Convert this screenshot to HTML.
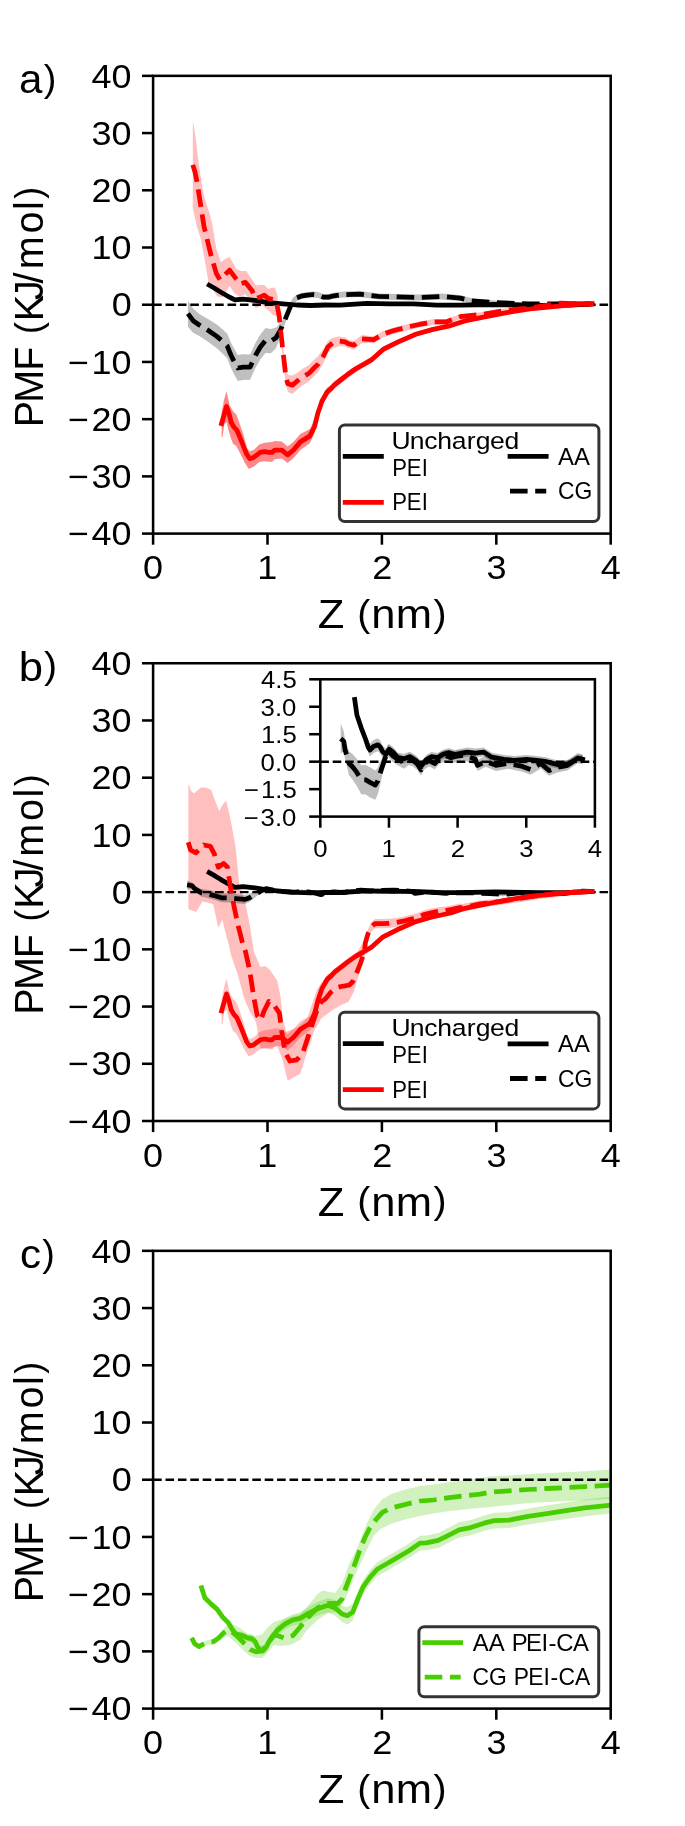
<!DOCTYPE html><html><head><meta charset="utf-8"><title>PMF profiles</title><style>html,body{margin:0;padding:0;background:#fff;}body{width:685px;height:1826px;overflow:hidden;}svg text{font-family:"Liberation Sans", sans-serif;}</style></head><body>
<svg width="685" height="1826" viewBox="0 0 685 1826" style="display:block;font-family:&quot;Liberation Sans&quot;,sans-serif;will-change:transform"><defs><clipPath id="ax0"><rect x="153.1" y="75.85" width="457.60" height="457.75"/></clipPath><clipPath id="ax1"><rect x="153.1" y="663.25" width="457.60" height="457.75"/></clipPath><clipPath id="ax2"><rect x="153.1" y="1250.85" width="457.60" height="457.75"/></clipPath><clipPath id="ins"><rect x="320.3" y="679.3" width="274.60" height="137.30"/></clipPath></defs><rect width="685" height="1826" fill="#fff"/><polygon points="187.9,300.7 193.1,308.6 199.3,314.0 208.0,318.9 216.8,324.5 222.0,328.7 227.3,333.7 230.8,342.2 233.4,347.3 237.8,355.0 243.1,354.3 250.1,354.5 255.0,343.7 260.3,334.5 265.5,327.9 270.8,328.9 276.0,327.4 280.6,323.5 284.6,316.5 287.8,309.0 290.5,302.7 293.1,297.5 297.0,294.5 302.3,292.8 307.6,292.1 312.8,291.5 318.1,292.1 323.3,294.1 328.6,294.1 333.8,292.8 343.4,291.6 359.7,291.1 378.4,293.4 397.1,293.9 418.1,294.6 441.5,293.4 460.2,295.1 471.7,298.2 495.0,300.5 530.0,302.9 560.0,303.2 592.0,303.5 592.0,304.5 560.0,304.8 530.0,304.9 495.0,304.5 471.7,303.6 460.2,301.1 441.5,299.4 418.1,300.6 397.1,299.9 378.4,299.4 359.7,297.1 343.4,297.6 333.8,298.8 328.6,300.1 323.3,300.1 318.1,298.1 312.8,297.5 307.6,298.1 302.3,298.8 297.0,300.9 293.1,304.5 290.5,309.9 287.8,316.6 284.6,324.9 280.6,336.3 276.0,348.2 270.8,353.3 265.5,352.9 260.3,359.5 255.0,368.7 250.1,379.7 243.1,379.9 237.8,381.0 233.4,372.9 230.8,367.4 227.3,358.5 222.0,352.9 216.8,348.3 208.0,341.7 199.3,336.0 193.1,332.8 187.9,326.7" fill="#000" fill-opacity="0.25" clip-path="url(#ax0)"/>
<polygon points="192.8,121.0 195.1,133.4 198.6,162.6 202.7,189.4 205.0,200.0 208.5,210.0 212.0,222.8 216.4,249.0 220.8,262.2 225.0,259.0 229.6,257.0 236.6,269.2 241.0,271.0 246.2,271.0 252.3,279.7 256.0,285.5 260.0,285.0 264.6,285.0 268.0,289.0 271.0,288.0 275.1,287.6 277.5,296.0 279.3,310.0 280.6,323.0 281.9,335.0 283.2,347.0 284.6,359.0 285.9,370.0 288.0,375.0 292.4,375.5 297.0,373.0 302.3,369.0 308.9,365.0 312.8,361.0 318.1,356.0 323.3,349.0 327.9,341.0 332.5,338.0 339.1,336.5 345.0,337.5 348.0,339.5 354.0,341.0 362.0,335.0 374.0,336.5 383.0,331.0 395.0,327.3 409.0,323.8 420.0,321.2 434.5,319.0 446.0,319.0 460.0,314.2 483.0,312.0 507.0,308.2 530.0,306.2 560.0,302.2 592.0,303.5 592.0,304.5 560.0,304.2 530.0,309.6 507.0,312.2 483.0,316.4 460.0,319.2 446.0,324.8 434.5,324.8 420.0,327.2 409.0,330.0 395.0,333.5 383.0,337.5 374.0,343.0 362.0,343.0 354.0,349.5 348.0,348.0 345.0,346.5 339.1,346.0 332.5,348.5 327.9,353.0 323.3,363.5 318.1,372.0 312.8,377.5 308.9,381.5 302.3,385.5 297.0,390.0 292.4,394.0 288.0,392.0 285.9,385.0 284.6,374.0 283.2,362.0 281.9,350.0 280.6,339.0 279.3,327.0 277.3,318.0 276.0,316.0 273.0,315.0 268.0,310.0 262.0,305.0 255.8,308.6 250.0,300.0 245.0,294.0 240.0,297.0 234.0,293.0 229.6,285.8 226.0,292.0 222.0,297.5 217.3,296.4 213.0,290.0 208.5,282.3 205.9,266.6 200.7,238.5 196.9,226.8 192.8,208.0" fill="#ff0000" fill-opacity="0.25" clip-path="url(#ax0)"/>
<polygon points="221.6,412.0 224.0,400.0 226.5,391.1 229.5,405.1 233.0,411.3 236.5,414.8 240.0,424.4 243.5,434.9 247.0,448.1 249.7,451.6 254.0,449.8 259.3,444.6 264.6,442.8 272.0,441.9 274.7,440.9 281.8,441.6 287.6,446.5 293.4,441.9 300.4,433.9 309.8,428.9 314.5,420.3 318.0,407.2 320.0,402.0 322.0,396.2 324.7,392.0 327.3,387.4 331.7,384.2 334.5,381.2 340.7,376.6 347.7,371.2 355.5,365.8 362.6,361.9 371.4,357.0 383.1,346.6 397.1,339.9 415.8,331.9 432.1,327.4 450.8,323.6 464.8,319.0 483.4,315.5 506.7,311.2 530.0,307.8 553.4,305.8 576.8,303.7 592.0,303.5 592.0,304.5 576.8,305.1 553.4,307.6 530.0,310.2 506.7,314.0 483.4,318.9 464.8,322.8 450.8,327.6 432.1,331.8 415.8,336.5 397.1,344.9 383.1,352.2 371.4,362.8 362.6,368.1 355.5,372.2 347.7,377.8 340.7,383.4 334.5,388.4 331.7,391.8 327.3,396.0 324.7,401.0 322.0,405.8 320.0,412.0 318.0,418.2 314.5,433.1 309.8,443.3 300.4,449.9 293.4,458.3 287.6,463.1 281.8,458.6 274.7,459.3 272.0,462.1 264.6,461.2 259.3,462.1 254.0,466.5 248.8,469.1 245.3,463.8 240.9,455.1 236.5,446.3 233.0,443.7 230.4,436.7 228.5,430.0 226.5,422.0 224.3,424.4 222.5,437.0 221.6,436.7" fill="#ff0000" fill-opacity="0.47" clip-path="url(#ax0)"/>
<line x1="153.10" y1="304.73" x2="610.70" y2="304.73" stroke="#000" stroke-width="2.4" stroke-dasharray="8.6,3.8"/>
<path d="M209.20,285.20 L215.00,288.50 L220.90,292.20 L228.00,296.30 L234.90,299.90 L243.10,299.20 L254.80,300.40 L268.80,302.70 L282.80,303.90 L296.80,305.00 L310.80,305.50 L324.80,305.00 L340.00,305.10 L366.70,303.40 L390.00,303.90 L413.40,303.90 L436.80,305.10 L460.20,305.20 L495.00,304.50 L541.80,305.30 L570.00,305.00 L592.00,304.00" fill="none" stroke="#000" stroke-width="4.76" stroke-linejoin="round" stroke-linecap="square" clip-path="url(#ax0)"/>
<path d="M187.90,313.70 L193.10,320.70 L199.30,325.00 L208.00,330.30 L216.80,336.40 L222.00,340.80 L227.30,346.10 L230.80,354.80 L233.40,360.10 L237.80,368.00 L243.10,367.10 L250.10,367.10 L255.00,356.20 L260.30,347.00 L265.50,340.40 L270.80,341.10 L276.00,337.80 L280.60,329.90 L284.60,320.70 L287.80,312.80 L290.50,306.30 L293.10,301.00 L297.00,297.70 L302.30,295.80 L307.60,295.10 L312.80,294.50 L318.10,295.10 L323.30,297.10 L328.60,297.10 L333.80,295.80 L343.40,294.60 L359.70,294.10 L378.40,296.40 L397.10,296.90 L418.10,297.60 L441.50,296.40 L460.20,298.10 L471.70,300.90 L495.00,302.50 L530.00,303.90 L560.00,304.00 L592.00,304.00" fill="none" stroke="#000" stroke-width="4.76" stroke-linejoin="round" stroke-linecap="butt" stroke-dasharray="17.6,7.6" clip-path="url(#ax0)"/>
<path d="M221.60,423.50 L226.50,406.50 L229.10,413.90 L231.30,422.70 L233.90,427.00 L237.00,430.50 L240.00,437.60 L243.50,446.30 L246.60,454.20 L249.70,458.60 L253.20,457.70 L256.70,455.10 L260.20,452.40 L264.60,451.60 L268.90,452.40 L272.00,452.40 L274.70,450.10 L281.80,450.10 L287.60,454.80 L293.40,450.10 L300.40,441.90 L309.80,436.10 L314.50,426.70 L318.00,412.70 L320.00,407.00 L322.00,401.00 L324.70,396.50 L327.30,391.70 L331.70,388.00 L334.50,384.80 L340.70,380.00 L347.70,374.50 L355.50,369.00 L362.60,365.00 L371.40,359.90 L383.10,349.40 L397.10,342.40 L415.80,334.20 L432.10,329.60 L450.80,325.60 L464.80,320.90 L483.40,317.20 L506.70,312.60 L530.00,309.00 L553.40,306.70 L576.80,304.40 L592.00,304.00" fill="none" stroke="#ff0000" stroke-width="4.76" stroke-linejoin="round" stroke-linecap="square" clip-path="url(#ax0)"/>
<path d="M192.80,164.90 L195.00,172.00 L196.90,181.20 L200.40,203.40 L203.90,226.00 L206.80,238.00 L211.20,256.10 L216.40,273.60 L219.90,279.70 L225.20,274.50 L229.60,270.10 L234.80,277.10 L240.10,284.10 L245.30,282.30 L252.30,291.10 L255.00,298.50 L260.30,297.10 L264.20,295.10 L268.10,298.40 L274.70,299.70 L277.30,306.30 L279.30,316.80 L280.60,329.90 L281.90,341.80 L283.20,353.60 L284.60,365.40 L285.90,377.20 L287.80,383.80 L292.40,385.10 L297.00,381.20 L302.30,377.20 L308.90,373.30 L312.80,369.30 L318.10,364.10 L323.30,356.20 L327.90,347.00 L332.50,343.10 L339.10,341.10 L345.00,341.80 L348.00,343.60 L353.90,345.20 L362.00,338.90 L373.70,339.60 L383.10,334.20 L394.70,330.30 L408.80,326.80 L420.40,324.20 L434.50,321.90 L446.10,321.90 L460.20,316.70 L483.40,314.20 L506.70,310.20 L530.00,307.90 L560.40,303.20 L592.00,304.00" fill="none" stroke="#ff0000" stroke-width="4.76" stroke-linejoin="round" stroke-linecap="butt" stroke-dasharray="17.6,7.6" clip-path="url(#ax0)"/>
<rect x="339.4" y="424.90" width="259.5" height="96.6" rx="5.5" ry="5.5" fill="#fff" fill-opacity="0.8" stroke="#000" stroke-opacity="0.8" stroke-width="3.0"/>
<path d="M345.20,456.30 L381.40,456.30" fill="none" stroke="#000" stroke-width="4.76" stroke-linejoin="round" stroke-linecap="square"/>
<path d="M345.20,502.30 L381.40,502.30" fill="none" stroke="#ff0000" stroke-width="4.76" stroke-linejoin="round" stroke-linecap="square"/>
<path d="M510.00,456.40 L546.20,456.40" fill="none" stroke="#000" stroke-width="4.76" stroke-linejoin="round" stroke-linecap="square"/>
<path d="M510.00,491.10 L546.20,491.10" fill="none" stroke="#000" stroke-width="4.76" stroke-linejoin="round" stroke-linecap="butt" stroke-dasharray="17.6,7.6"/>
<text transform="translate(392.59,449.00) scale(1.0755,1)" font-size="24.69" xml:space="preserve"><tspan x="-0.99 15.86 29.37 41.50 55.00 68.85 77.42 90.58 104.12" y="0">Uncharged</tspan></text>
<text transform="translate(392.61,475.50) scale(0.8940,1)" font-size="24.69" xml:space="preserve"><tspan x="-0.38 15.72 32.60" y="0">PEI</tspan></text>
<text transform="translate(392.61,510.30) scale(0.8940,1)" font-size="24.69" xml:space="preserve"><tspan x="-0.38 15.72 32.60" y="0">PEI</tspan></text>
<text transform="translate(558.01,464.60) scale(0.9679,1)" font-size="24.69" xml:space="preserve"><tspan x="0.00 16.47" y="0">AA</tspan></text>
<text transform="translate(558.02,499.40) scale(0.9264,1)" font-size="24.69" xml:space="preserve"><tspan x="-0.13 17.71" y="0">CG</tspan></text>
<polygon points="221.6,999.4 224.0,987.4 226.5,978.5 229.5,992.5 233.0,998.7 236.5,1002.2 240.0,1011.8 243.5,1022.3 247.0,1035.5 249.7,1039.0 254.0,1037.2 259.3,1032.0 264.6,1030.2 272.0,1029.3 274.7,1028.3 281.8,1029.0 287.6,1033.9 293.4,1029.3 300.4,1021.3 309.8,1016.3 314.5,1007.7 318.0,994.6 320.0,989.4 322.0,983.6 324.7,979.4 327.3,974.8 331.7,971.6 334.5,968.6 340.7,964.0 347.7,958.6 355.5,953.2 362.6,949.3 371.4,944.4 383.1,934.0 397.1,927.3 415.8,919.3 432.1,914.8 450.8,911.0 464.8,906.4 483.4,902.9 506.7,898.6 530.0,895.2 553.4,893.2 576.8,891.1 592.0,890.9 592.0,891.9 576.8,892.5 553.4,895.0 530.0,897.6 506.7,901.4 483.4,906.3 464.8,910.2 450.8,915.0 432.1,919.2 415.8,923.9 397.1,932.3 383.1,939.6 371.4,950.2 362.6,955.5 355.5,959.6 347.7,965.2 340.7,970.8 334.5,975.8 331.7,979.2 327.3,983.4 324.7,988.4 322.0,993.2 320.0,999.4 318.0,1005.6 314.5,1020.5 309.8,1030.7 300.4,1037.3 293.4,1045.7 287.6,1050.5 281.8,1046.0 274.7,1046.7 272.0,1049.5 264.6,1048.6 259.3,1049.5 254.0,1053.9 248.8,1056.5 245.3,1051.2 240.9,1042.5 236.5,1033.7 233.0,1031.1 230.4,1024.1 228.5,1017.4 226.5,1009.4 224.3,1011.8 222.5,1024.4 221.6,1024.1" fill="#ff0000" fill-opacity="0.25" clip-path="url(#ax1)"/>
<polygon points="188.4,782.9 191.0,790.8 193.7,793.4 198.0,789.9 201.5,787.3 206.8,787.7 211.2,789.9 214.7,799.6 219.1,811.0 222.6,804.8 226.1,800.4 229.6,815.3 233.1,832.9 236.0,850.0 239.3,885.7 244.6,898.8 249.8,925.1 253.8,951.4 260.4,967.1 265.0,966.0 270.0,969.9 277.1,980.4 280.6,996.7 283.0,1020.0 286.4,1031.8 298.1,1027.1 307.5,1017.7 316.8,990.0 321.0,983.0 326.0,977.0 335.0,969.0 345.0,962.5 352.0,958.0 357.0,952.0 362.0,944.0 364.3,940.0 365.4,938.0 368.0,929.3 371.5,922.3 375.0,919.0 382.0,919.0 389.0,918.7 396.0,918.0 403.0,916.8 410.0,915.0 417.0,913.3 424.0,910.3 431.0,908.6 438.0,907.2 445.0,906.5 452.0,905.2 460.0,903.5 462.0,904.0 480.0,900.5 500.0,898.5 520.0,896.0 540.0,893.5 560.0,891.5 591.5,891.0 591.5,893.0 560.0,896.5 540.0,899.0 520.0,902.0 500.0,905.0 480.0,907.5 462.0,912.0 460.0,911.5 452.0,913.4 445.0,914.9 438.0,915.6 431.0,917.0 424.0,918.7 417.0,922.1 410.0,923.8 403.0,925.6 396.0,926.9 389.0,927.9 382.0,928.2 375.0,928.2 371.5,931.3 368.0,938.5 365.4,948.0 364.3,958.0 361.7,966.6 359.0,974.5 353.8,992.0 348.5,1001.7 340.7,1005.2 331.9,1010.4 321.4,1018.3 314.5,1030.0 307.5,1050.4 300.4,1073.8 287.6,1080.8 282.0,1058.0 277.1,1045.8 270.0,1048.1 260.7,1048.1 256.0,1022.0 250.0,1012.0 244.4,999.0 237.4,973.4 231.0,955.0 228.8,945.0 226.2,935.6 222.3,919.8 218.3,927.7 213.1,904.1 202.5,901.5 196.0,912.0 188.4,909.3" fill="#ff0000" fill-opacity="0.25" clip-path="url(#ax1)"/>
<polygon points="187.1,880.2 192.3,882.6 194.4,885.7 200.9,888.8 206.8,889.7 213.4,891.1 221.4,893.3 228.8,893.2 235.9,893.9 244.8,894.9 249.1,893.9 252.1,892.4 254.9,891.4 257.9,890.4 260.8,888.9 266.1,886.6 273.4,888.3 283.2,889.7 292.9,890.6 300.2,889.5 307.6,889.9 314.7,891.0 320.9,892.8 326.9,890.9 334.2,890.0 344.1,890.9 351.2,889.3 361.1,888.4 370.7,889.1 380.6,888.6 394.2,888.3 411.6,889.6 415.1,891.6 428.7,890.3 445.7,891.6 466.1,891.0 489.9,891.9 503.5,892.9 520.5,891.0 534.2,893.3 547.9,892.3 564.9,891.7 581.9,889.5 590.4,889.8 590.4,892.9 581.9,892.6 564.9,894.9 547.9,895.5 534.2,896.5 520.5,894.3 503.5,896.2 489.9,895.3 466.1,894.3 445.7,895.0 428.7,893.7 415.1,895.0 411.6,893.1 394.2,891.8 380.6,892.2 370.7,892.7 361.1,892.0 351.2,892.9 344.1,894.5 334.2,893.6 326.9,894.5 320.9,896.5 314.7,894.7 307.6,893.6 300.2,893.2 292.9,894.3 283.2,893.4 273.4,892.1 266.1,890.6 260.8,893.6 257.9,895.3 254.9,897.6 252.1,899.9 249.1,902.2 244.8,904.0 235.9,903.3 228.8,902.4 221.4,902.3 213.4,899.5 206.8,897.7 200.9,896.4 194.4,891.3 192.3,888.9 187.1,889.6" fill="#000" fill-opacity="0.25" clip-path="url(#ax1)"/>
<line x1="153.10" y1="892.12" x2="610.70" y2="892.12" stroke="#000" stroke-width="2.4" stroke-dasharray="8.6,3.8"/>
<path d="M209.20,872.60 L215.00,875.90 L220.90,879.60 L228.00,883.70 L234.90,887.30 L243.10,886.60 L254.80,887.80 L268.80,890.10 L282.80,891.30 L296.80,892.40 L310.80,892.90 L324.80,892.40 L340.00,892.50 L366.70,890.80 L390.00,891.30 L413.40,891.30 L436.80,892.50 L460.20,892.60 L495.00,891.90 L541.80,892.70 L570.00,892.40 L592.00,891.40" fill="none" stroke="#000" stroke-width="4.76" stroke-linejoin="round" stroke-linecap="square" clip-path="url(#ax1)"/>
<path d="M187.10,884.91 L192.26,885.76 L194.43,888.47 L200.93,892.60 L206.76,893.69 L213.42,895.32 L221.42,897.79 L228.76,897.79 L235.92,898.60 L244.75,899.45 L249.09,898.07 L252.09,896.16 L254.92,894.51 L257.92,892.85 L260.75,891.22 L266.08,888.60 L273.42,890.19 L283.25,891.54 L292.91,892.48 L300.25,891.32 L307.58,891.79 L314.74,892.85 L320.91,894.66 L326.91,892.69 L334.24,891.79 L344.07,892.69 L351.24,891.10 L361.07,890.19 L370.73,890.88 L380.57,890.41 L394.23,890.04 L411.56,891.38 L415.06,893.29 L428.73,892.01 L445.72,893.29 L466.05,892.66 L489.88,893.60 L503.55,894.57 L520.55,892.66 L534.21,894.88 L547.88,893.91 L564.87,893.29 L581.87,891.04 L590.37,891.38" fill="none" stroke="#000" stroke-width="4.76" stroke-linejoin="round" stroke-linecap="butt" stroke-dasharray="17.6,7.6" clip-path="url(#ax1)"/>
<path d="M221.60,1010.90 L226.50,993.90 L229.10,1001.30 L231.30,1010.10 L233.90,1014.40 L237.00,1017.90 L240.00,1025.00 L243.50,1033.70 L246.60,1041.60 L249.70,1046.00 L253.20,1045.10 L256.70,1042.50 L260.20,1039.80 L264.60,1039.00 L268.90,1039.80 L272.00,1039.80 L274.70,1037.50 L281.80,1037.50 L287.60,1042.20 L293.40,1037.50 L300.40,1029.30 L309.80,1023.50 L314.50,1014.10 L318.00,1000.10 L320.00,994.40 L322.00,988.40 L324.70,983.90 L327.30,979.10 L331.70,975.40 L334.50,972.20 L340.70,967.40 L347.70,961.90 L355.50,956.40 L362.60,952.40 L371.40,947.30 L383.10,936.80 L397.10,929.80 L415.80,921.60 L432.10,917.00 L450.80,913.00 L464.80,908.30 L483.40,904.60 L506.70,900.00 L530.00,896.40 L553.40,894.10 L576.80,891.80 L592.00,891.40" fill="none" stroke="#ff0000" stroke-width="4.76" stroke-linejoin="round" stroke-linecap="square" clip-path="url(#ax1)"/>
<path d="M188.20,842.30 L190.70,850.20 L196.00,852.80 L203.90,845.00 L210.40,846.30 L214.40,854.20 L218.30,867.30 L223.60,863.40 L227.50,867.30 L230.10,885.70 L234.10,906.70 L238.00,925.10 L242.00,940.90 L245.60,952.00 L249.80,971.00 L253.70,996.70 L257.20,1015.40 L260.70,1020.10 L264.20,1010.70 L268.90,1001.40 L274.70,1006.10 L279.40,1013.10 L281.80,1031.80 L285.30,1052.80 L289.90,1061.00 L296.90,1059.80 L302.80,1052.80 L307.50,1038.80 L312.10,1024.70 L316.80,1010.70 L321.50,1001.40 L325.30,999.00 L331.00,992.00 L336.30,987.70 L341.00,986.50 L345.00,985.90 L349.40,985.00 L352.90,981.50 L355.50,976.30 L357.70,970.10 L359.90,964.90 L362.60,957.00 L364.30,952.60 L365.40,942.60 L368.00,933.80 L371.50,926.80 L375.00,923.60 L382.00,923.60 L389.10,923.30 L396.10,922.40 L403.10,921.20 L410.10,919.40 L417.10,917.70 L424.10,914.50 L431.10,912.80 L438.10,911.40 L445.10,910.70 L452.10,909.30 L460.00,907.50 L461.50,907.90 L480.20,903.90 L500.00,901.60 L513.80,899.30 L535.70,896.00 L557.60,893.10 L591.50,891.80" fill="none" stroke="#ff0000" stroke-width="4.76" stroke-linejoin="round" stroke-linecap="butt" stroke-dasharray="17.6,7.6" clip-path="url(#ax1)"/>
<rect x="339.4" y="1012.30" width="259.5" height="96.6" rx="5.5" ry="5.5" fill="#fff" fill-opacity="0.8" stroke="#000" stroke-opacity="0.8" stroke-width="3.0"/>
<path d="M345.20,1043.70 L381.40,1043.70" fill="none" stroke="#000" stroke-width="4.76" stroke-linejoin="round" stroke-linecap="square"/>
<path d="M345.20,1089.70 L381.40,1089.70" fill="none" stroke="#ff0000" stroke-width="4.76" stroke-linejoin="round" stroke-linecap="square"/>
<path d="M510.00,1043.80 L546.20,1043.80" fill="none" stroke="#000" stroke-width="4.76" stroke-linejoin="round" stroke-linecap="square"/>
<path d="M510.00,1078.50 L546.20,1078.50" fill="none" stroke="#000" stroke-width="4.76" stroke-linejoin="round" stroke-linecap="butt" stroke-dasharray="17.6,7.6"/>
<text transform="translate(392.59,1036.40) scale(1.0755,1)" font-size="24.69" xml:space="preserve"><tspan x="-0.99 15.86 29.37 41.50 55.00 68.85 77.42 90.58 104.12" y="0">Uncharged</tspan></text>
<text transform="translate(392.61,1062.90) scale(0.8940,1)" font-size="24.69" xml:space="preserve"><tspan x="-0.38 15.72 32.60" y="0">PEI</tspan></text>
<text transform="translate(392.61,1097.70) scale(0.8940,1)" font-size="24.69" xml:space="preserve"><tspan x="-0.38 15.72 32.60" y="0">PEI</tspan></text>
<text transform="translate(558.01,1052.00) scale(0.9679,1)" font-size="24.69" xml:space="preserve"><tspan x="0.00 16.47" y="0">AA</tspan></text>
<text transform="translate(558.02,1086.80) scale(0.9264,1)" font-size="24.69" xml:space="preserve"><tspan x="-0.13 17.71" y="0">CG</tspan></text>
<rect x="320.3" y="679.3" width="274.60" height="137.30" fill="#fff"/>
<polygon points="354.7,697.4 356.9,712.6 361.3,724.8 365.7,735.1 368.3,741.8 370.0,743.5 373.5,740.0 377.9,738.3 380.5,741.0 382.7,745.7 385.8,748.8 389.3,744.1 392.8,746.8 397.7,752.7 403.8,753.8 409.9,751.8 416.1,755.8 421.2,761.1 426.3,754.9 431.4,751.9 437.5,752.9 442.6,749.9 448.8,747.9 454.9,749.9 460.0,749.0 467.3,747.5 475.4,748.5 483.6,747.6 491.8,752.7 504.0,754.9 514.3,755.9 526.5,755.0 536.7,756.1 544.9,757.1 553.1,759.2 561.3,761.3 569.4,759.3 577.6,754.2 582.7,755.3 582.7,763.3 577.6,762.2 569.4,767.5 561.3,769.5 553.1,767.6 544.9,765.5 536.7,764.5 526.5,763.6 514.3,764.7 504.0,763.7 491.8,761.7 483.6,756.6 475.4,757.7 467.3,756.7 460.0,758.2 454.9,759.3 448.8,757.3 442.6,759.3 437.5,762.5 431.4,761.5 426.3,764.5 421.2,770.7 416.1,765.6 409.9,761.6 403.8,763.6 397.7,762.7 392.8,756.8 389.3,754.3 385.8,760.0 382.7,757.9 380.5,753.8 377.9,751.3 373.5,753.0 370.0,756.5 368.3,753.0 365.7,743.9 361.3,731.4 356.9,717.4 354.7,701.4" fill="#000" fill-opacity="0.25" clip-path="url(#ins)"/>
<polygon points="340.7,723.6 343.8,731.3 345.1,741.0 349.0,751.2 352.5,754.0 356.5,758.4 361.3,765.3 365.7,765.0 370.0,767.2 375.3,770.4 377.9,767.4 379.7,762.6 381.4,759.4 383.2,756.1 384.9,751.3 388.1,743.9 392.5,749.5 398.4,753.8 404.2,756.9 408.6,753.2 413.0,754.7 417.3,758.1 421.0,764.0 424.6,757.7 429.0,754.8 434.9,757.7 439.2,752.7 445.1,749.8 450.9,752.0 456.8,750.5 465.0,749.4 475.4,753.7 477.5,759.9 485.7,755.8 495.9,759.9 508.1,758.0 522.4,761.1 530.6,764.2 540.8,758.2 549.0,765.3 557.2,762.3 567.4,760.3 577.6,753.2 582.7,754.3 582.7,764.3 577.6,763.2 567.4,770.5 557.2,772.5 549.0,775.7 540.8,768.6 530.6,774.8 522.4,771.7 508.1,768.8 495.9,770.9 485.7,766.8 477.5,770.9 475.4,764.9 465.0,760.6 456.8,761.9 450.9,763.4 445.1,761.2 439.2,764.1 434.9,769.3 429.0,766.4 424.6,769.3 421.0,775.6 417.3,769.9 413.0,766.5 408.6,765.0 404.2,768.7 398.4,765.8 392.5,761.5 388.1,756.9 384.9,766.3 383.2,771.9 381.4,779.2 379.7,786.6 377.9,794.0 375.3,799.8 370.0,797.6 365.7,794.6 361.3,794.3 356.5,785.4 352.5,779.4 349.0,775.2 345.1,759.0 343.8,751.3 340.7,753.6" fill="#000" fill-opacity="0.25" clip-path="url(#ins)"/>
<line x1="320.30" y1="761.68" x2="594.90" y2="761.68" stroke="#000" stroke-width="2.4" stroke-dasharray="8.6,3.8"/>
<path d="M354.70,699.40 L356.90,715.00 L361.30,728.10 L365.70,739.50 L368.30,747.40 L370.00,750.00 L373.50,746.50 L377.90,744.80 L380.50,747.40 L382.70,751.80 L385.80,754.40 L389.30,749.20 L392.80,751.80 L397.70,757.70 L403.80,758.70 L409.90,756.70 L416.10,760.70 L421.20,765.90 L426.30,759.70 L431.40,756.70 L437.50,757.70 L442.60,754.60 L448.80,752.60 L454.90,754.60 L460.00,753.60 L467.30,752.10 L475.40,753.10 L483.60,752.10 L491.80,757.20 L504.00,759.30 L514.30,760.30 L526.50,759.30 L536.70,760.30 L544.90,761.30 L553.10,763.40 L561.30,765.40 L569.40,763.40 L577.60,758.20 L582.70,759.30" fill="none" stroke="#000" stroke-width="4.76" stroke-linejoin="round" stroke-linecap="square" clip-path="url(#ins)"/>
<path d="M340.70,738.60 L343.80,741.30 L345.10,750.00 L349.00,763.20 L352.50,766.70 L356.50,771.90 L361.30,779.80 L365.70,779.80 L370.00,782.40 L375.30,785.10 L377.90,780.70 L379.70,774.60 L381.40,769.30 L383.20,764.00 L384.90,758.80 L388.10,750.40 L392.50,755.50 L398.40,759.80 L404.20,762.80 L408.60,759.10 L413.00,760.60 L417.30,764.00 L421.00,769.80 L424.60,763.50 L429.00,760.60 L434.90,763.50 L439.20,758.40 L445.10,755.50 L450.90,757.70 L456.80,756.20 L465.00,755.00 L475.40,759.30 L477.50,765.40 L485.70,761.30 L495.90,765.40 L508.10,763.40 L522.40,766.40 L530.60,769.50 L540.80,763.40 L549.00,770.50 L557.20,767.40 L567.40,765.40 L577.60,758.20 L582.70,759.30" fill="none" stroke="#000" stroke-width="4.76" stroke-linejoin="round" stroke-linecap="butt" stroke-dasharray="17.6,7.6" clip-path="url(#ins)"/>
<rect x="320.3" y="679.3" width="274.60" height="137.30" fill="none" stroke="#000" stroke-width="2.54"/>
<line x1="320.30" y1="816.60" x2="320.30" y2="827.70" stroke="#000" stroke-width="2.54"/>
<text transform="translate(313.16,856.80) scale(1.0796,1)" font-size="23.84" xml:space="preserve"><tspan x="0.00" y="0">0</tspan></text>
<line x1="388.95" y1="816.60" x2="388.95" y2="827.70" stroke="#000" stroke-width="2.54"/>
<text transform="translate(381.58,856.80) scale(1.0796,1)" font-size="23.84" xml:space="preserve"><tspan x="0.00" y="0">1</tspan></text>
<line x1="457.60" y1="816.60" x2="457.60" y2="827.70" stroke="#000" stroke-width="2.54"/>
<text transform="translate(450.77,856.80) scale(1.0796,1)" font-size="23.84" xml:space="preserve"><tspan x="0.00" y="0">2</tspan></text>
<line x1="526.25" y1="816.60" x2="526.25" y2="827.70" stroke="#000" stroke-width="2.54"/>
<text transform="translate(519.16,856.80) scale(1.0796,1)" font-size="23.84" xml:space="preserve"><tspan x="0.00" y="0">3</tspan></text>
<line x1="594.90" y1="816.60" x2="594.90" y2="827.70" stroke="#000" stroke-width="2.54"/>
<text transform="translate(587.81,856.80) scale(1.0796,1)" font-size="23.84" xml:space="preserve"><tspan x="0.00" y="0">4</tspan></text>
<line x1="309.20" y1="679.30" x2="320.30" y2="679.30" stroke="#000" stroke-width="2.54"/>
<text transform="translate(261.04,688.20) scale(1.0796,1)" font-size="23.84" xml:space="preserve"><tspan x="0.00 13.26 19.88" y="0">4.5</tspan></text>
<line x1="309.20" y1="706.76" x2="320.30" y2="706.76" stroke="#000" stroke-width="2.54"/>
<text transform="translate(260.59,715.66) scale(1.0796,1)" font-size="23.84" xml:space="preserve"><tspan x="0.00 13.26 19.88" y="0">3.0</tspan></text>
<line x1="309.20" y1="734.22" x2="320.30" y2="734.22" stroke="#000" stroke-width="2.54"/>
<text transform="translate(261.04,743.12) scale(1.0796,1)" font-size="23.84" xml:space="preserve"><tspan x="0.00 13.26 19.88" y="0">1.5</tspan></text>
<line x1="309.20" y1="761.68" x2="320.30" y2="761.68" stroke="#000" stroke-width="2.54"/>
<text transform="translate(260.59,770.58) scale(1.0796,1)" font-size="23.84" xml:space="preserve"><tspan x="0.00 13.26 19.88" y="0">0.0</tspan></text>
<line x1="309.20" y1="789.14" x2="320.30" y2="789.14" stroke="#000" stroke-width="2.54"/>
<text transform="translate(242.19,798.04) scale(1.0797,1)" font-size="23.84" xml:space="preserve"><tspan x="1.77 17.46 30.72 37.34" y="0">−1.5</tspan></text>
<line x1="309.20" y1="816.60" x2="320.30" y2="816.60" stroke="#000" stroke-width="2.54"/>
<text transform="translate(241.74,825.50) scale(1.0797,1)" font-size="23.84" xml:space="preserve"><tspan x="1.77 17.46 30.72 37.34" y="0">−3.0</tspan></text>
<polygon points="201.6,1586.8 204.8,1596.6 210.7,1602.3 217.2,1607.9 222.3,1615.0 228.2,1620.7 232.6,1627.6 236.2,1631.6 241.3,1631.9 247.2,1634.2 251.5,1634.5 255.2,1637.2 257.4,1642.2 259.6,1645.1 263.2,1645.6 266.1,1642.6 269.0,1636.5 273.4,1630.6 277.2,1625.2 285.1,1618.3 293.0,1614.0 300.0,1612.4 308.8,1606.7 317.5,1602.0 328.0,1598.0 335.0,1600.2 342.0,1606.0 347.3,1607.1 352.6,1603.8 357.8,1591.7 363.1,1579.9 370.1,1570.1 377.1,1562.2 387.6,1556.0 398.1,1549.9 408.6,1543.7 420.0,1535.7 426.4,1535.4 438.1,1532.9 447.5,1528.3 459.1,1522.3 470.8,1519.9 484.8,1515.2 494.2,1512.8 509.0,1512.3 528.0,1508.4 546.9,1505.5 565.9,1502.5 584.9,1499.6 612.0,1496.5 612.0,1513.5 584.9,1516.2 565.9,1518.9 546.9,1521.7 528.0,1524.4 509.0,1528.1 494.2,1528.4 484.8,1530.6 470.8,1535.3 459.1,1537.5 447.5,1543.3 438.1,1547.9 426.4,1550.2 420.0,1550.5 408.6,1558.3 398.1,1564.3 387.6,1570.4 377.1,1576.4 370.1,1584.3 363.1,1593.9 357.8,1606.5 352.6,1620.8 347.3,1624.5 342.0,1622.0 335.0,1615.6 328.0,1612.6 317.5,1615.6 308.8,1619.5 300.0,1624.4 293.0,1625.6 285.1,1629.3 277.2,1635.6 273.4,1640.8 269.0,1646.5 266.1,1652.2 263.2,1655.0 259.6,1654.1 257.4,1651.0 255.2,1645.8 251.5,1642.7 247.2,1641.6 241.3,1638.1 236.2,1636.8 232.6,1632.2 228.2,1624.5 222.3,1618.4 217.2,1610.9 210.7,1604.9 204.8,1598.8 201.6,1588.8" fill="#48cd00" fill-opacity="0.25" clip-path="url(#ax2)"/>
<polygon points="191.7,1636.0 195.0,1641.5 199.0,1644.5 203.0,1642.3 208.0,1640.0 214.0,1639.0 219.0,1635.0 224.0,1628.0 228.0,1624.0 232.0,1624.0 240.0,1628.0 248.0,1634.0 256.0,1636.0 262.0,1634.5 268.0,1627.0 274.0,1622.0 280.0,1620.0 290.0,1617.0 300.0,1614.0 307.0,1607.0 317.5,1593.9 322.8,1590.4 335.0,1593.0 342.0,1583.4 349.1,1564.1 357.8,1546.6 366.6,1523.8 373.6,1509.8 382.3,1499.3 391.1,1494.0 405.1,1489.6 420.0,1486.1 433.0,1484.5 447.0,1482.5 468.5,1479.7 490.0,1476.6 510.0,1475.5 530.0,1474.0 560.0,1472.5 590.0,1471.0 612.0,1469.5 612.0,1499.0 590.0,1500.0 560.0,1501.5 530.0,1503.0 510.0,1505.0 490.0,1507.0 468.5,1508.9 450.0,1511.0 433.4,1513.6 420.0,1515.9 405.1,1519.4 391.1,1523.8 380.6,1529.1 373.6,1536.1 368.3,1546.6 361.3,1562.3 355.0,1575.0 350.0,1588.0 343.8,1602.6 337.7,1612.0 328.0,1613.0 317.5,1620.0 307.0,1630.0 300.0,1640.0 290.0,1645.0 280.0,1646.0 274.0,1645.0 268.0,1652.0 262.0,1658.0 256.0,1658.0 250.0,1656.0 244.0,1651.0 236.0,1643.0 228.0,1636.0 224.0,1637.5 219.0,1641.0 214.0,1644.5 208.0,1645.0 203.0,1647.0 199.0,1649.0 195.0,1646.0 191.7,1639.8" fill="#48cd00" fill-opacity="0.25" clip-path="url(#ax2)"/>
<line x1="153.10" y1="1479.72" x2="610.70" y2="1479.72" stroke="#000" stroke-width="2.4" stroke-dasharray="8.6,3.8"/>
<path d="M201.60,1587.80 L204.80,1597.70 L210.70,1603.60 L217.20,1609.40 L222.30,1616.70 L228.20,1622.60 L232.60,1629.90 L236.20,1634.20 L241.30,1635.00 L247.20,1637.90 L251.50,1638.60 L255.20,1641.50 L257.40,1646.60 L259.60,1649.60 L263.20,1650.30 L266.10,1647.40 L269.00,1641.50 L273.40,1635.70 L277.20,1630.40 L285.10,1623.80 L293.00,1619.80 L300.00,1618.40 L308.80,1613.10 L317.50,1608.80 L328.00,1605.30 L335.00,1607.90 L342.00,1614.00 L347.30,1615.80 L352.60,1612.30 L357.80,1599.10 L363.10,1586.90 L370.10,1577.20 L377.10,1569.30 L387.60,1563.20 L398.10,1557.10 L408.60,1551.00 L420.00,1543.10 L426.40,1542.80 L438.10,1540.40 L447.50,1535.80 L459.10,1529.90 L470.80,1527.60 L484.80,1522.90 L494.20,1520.60 L509.00,1520.20 L528.00,1516.40 L546.90,1513.60 L565.90,1510.70 L584.90,1507.90 L612.00,1505.00" fill="none" stroke="#48cd00" stroke-width="4.76" stroke-linejoin="round" stroke-linecap="square" clip-path="url(#ax2)"/>
<path d="M191.70,1637.90 L194.60,1643.70 L199.00,1646.60 L202.60,1644.50 L207.70,1642.30 L213.60,1641.50 L218.70,1637.90 L223.80,1632.80 L228.20,1629.90 L232.00,1632.00 L236.50,1635.60 L244.40,1643.50 L250.10,1649.60 L255.90,1651.80 L261.80,1651.00 L267.60,1644.50 L273.40,1635.00 L277.20,1635.60 L285.10,1638.20 L293.00,1635.60 L300.00,1627.20 L307.00,1618.40 L317.50,1607.90 L328.00,1603.50 L337.70,1603.50 L342.00,1599.10 L345.50,1588.60 L350.80,1574.60 L356.10,1560.60 L360.40,1548.30 L364.80,1537.80 L369.20,1529.10 L375.30,1520.30 L382.30,1512.40 L391.10,1508.00 L401.60,1505.40 L412.10,1502.80 L420.00,1501.00 L433.40,1500.00 L447.50,1497.90 L461.50,1496.10 L480.20,1494.20 L490.00,1492.10 L509.00,1490.80 L528.00,1489.50 L546.90,1488.50 L565.90,1487.60 L584.90,1486.60 L612.00,1485.00" fill="none" stroke="#48cd00" stroke-width="4.76" stroke-linejoin="round" stroke-linecap="butt" stroke-dasharray="17.6,7.6" clip-path="url(#ax2)"/>
<rect x="418.9" y="1626.8" width="179.8" height="70.0" rx="5.5" ry="5.5" fill="#fff" fill-opacity="0.8" stroke="#000" stroke-opacity="0.8" stroke-width="3.0"/>
<path d="M424.70,1642.60 L460.70,1642.60" fill="none" stroke="#48cd00" stroke-width="4.76" stroke-linejoin="round" stroke-linecap="square"/>
<path d="M424.70,1677.20 L460.70,1677.20" fill="none" stroke="#48cd00" stroke-width="4.76" stroke-linejoin="round" stroke-linecap="butt" stroke-dasharray="17.6,7.6"/>
<text transform="translate(472.71,1650.90) scale(0.9679,1)" font-size="24.69" xml:space="preserve"><tspan x="0.00 16.47 34.00 40.28 55.14 71.10 78.31 86.26 103.58" y="0">AA PEI-CA</tspan></text>
<text transform="translate(472.72,1685.40) scale(0.9264,1)" font-size="24.69" xml:space="preserve"><tspan x="-0.13 17.71 37.62 44.40 59.93 76.39 83.95 92.47 110.53" y="0">CG PEI-CA</tspan></text>
<rect x="153.1" y="75.85" width="457.60" height="457.75" fill="none" stroke="#000" stroke-width="2.54" stroke-linejoin="miter"/>
<line x1="153.10" y1="533.60" x2="153.10" y2="544.70" stroke="#000" stroke-width="2.54"/>
<text transform="translate(143.10,579.30) scale(1.0796,1)" font-size="33.38" xml:space="preserve"><tspan x="0.00" y="0">0</tspan></text>
<line x1="267.50" y1="533.60" x2="267.50" y2="544.70" stroke="#000" stroke-width="2.54"/>
<text transform="translate(257.18,579.30) scale(1.0796,1)" font-size="33.38" xml:space="preserve"><tspan x="0.00" y="0">1</tspan></text>
<line x1="381.90" y1="533.60" x2="381.90" y2="544.70" stroke="#000" stroke-width="2.54"/>
<text transform="translate(372.33,579.30) scale(1.0796,1)" font-size="33.38" xml:space="preserve"><tspan x="0.00" y="0">2</tspan></text>
<line x1="496.30" y1="533.60" x2="496.30" y2="544.70" stroke="#000" stroke-width="2.54"/>
<text transform="translate(486.38,579.30) scale(1.0796,1)" font-size="33.38" xml:space="preserve"><tspan x="0.00" y="0">3</tspan></text>
<line x1="610.70" y1="533.60" x2="610.70" y2="544.70" stroke="#000" stroke-width="2.54"/>
<text transform="translate(600.78,579.30) scale(1.0796,1)" font-size="33.38" xml:space="preserve"><tspan x="0.00" y="0">4</tspan></text>
<line x1="142.00" y1="75.85" x2="153.10" y2="75.85" stroke="#000" stroke-width="2.54"/>
<text transform="translate(91.56,87.52) scale(1.0796,1)" font-size="33.38" xml:space="preserve"><tspan x="0.00 18.56" y="0">40</tspan></text>
<line x1="142.00" y1="133.07" x2="153.10" y2="133.07" stroke="#000" stroke-width="2.54"/>
<text transform="translate(91.56,144.74) scale(1.0796,1)" font-size="33.38" xml:space="preserve"><tspan x="0.00 18.56" y="0">30</tspan></text>
<line x1="142.00" y1="190.29" x2="153.10" y2="190.29" stroke="#000" stroke-width="2.54"/>
<text transform="translate(91.56,201.96) scale(1.0796,1)" font-size="33.38" xml:space="preserve"><tspan x="0.00 18.56" y="0">20</tspan></text>
<line x1="142.00" y1="247.51" x2="153.10" y2="247.51" stroke="#000" stroke-width="2.54"/>
<text transform="translate(91.56,259.18) scale(1.0796,1)" font-size="33.38" xml:space="preserve"><tspan x="0.00 18.56" y="0">10</tspan></text>
<line x1="142.00" y1="304.73" x2="153.10" y2="304.73" stroke="#000" stroke-width="2.54"/>
<text transform="translate(111.64,316.40) scale(1.0796,1)" font-size="33.38" xml:space="preserve"><tspan x="0.00" y="0">0</tspan></text>
<line x1="142.00" y1="361.94" x2="153.10" y2="361.94" stroke="#000" stroke-width="2.54"/>
<text transform="translate(65.18,373.61) scale(1.0796,1)" font-size="33.38" xml:space="preserve"><tspan x="2.48 24.45 43.01" y="0">−10</tspan></text>
<line x1="142.00" y1="419.16" x2="153.10" y2="419.16" stroke="#000" stroke-width="2.54"/>
<text transform="translate(65.18,430.83) scale(1.0796,1)" font-size="33.38" xml:space="preserve"><tspan x="2.48 24.45 43.01" y="0">−20</tspan></text>
<line x1="142.00" y1="476.38" x2="153.10" y2="476.38" stroke="#000" stroke-width="2.54"/>
<text transform="translate(65.18,488.05) scale(1.0796,1)" font-size="33.38" xml:space="preserve"><tspan x="2.48 24.45 43.01" y="0">−30</tspan></text>
<line x1="142.00" y1="533.60" x2="153.10" y2="533.60" stroke="#000" stroke-width="2.54"/>
<text transform="translate(65.18,545.27) scale(1.0796,1)" font-size="33.38" xml:space="preserve"><tspan x="2.48 24.45 43.01" y="0">−40</tspan></text>
<text transform="translate(317.92,628.20) scale(1.0755,1)" font-size="40.48" xml:space="preserve"><tspan x="-0.20 24.35" y="0">Z </tspan><tspan x="36.48" y="-2.60" font-size="36.46">(</tspan><tspan x="49.48 72.43" y="0">nm</tspan><tspan x="107.45" y="-2.60" font-size="36.46">)</tspan></text>
<text transform="translate(43.40,421.98) rotate(-90) translate(-3.72,0) scale(0.9775,1)" font-size="40.48" xml:space="preserve"><tspan x="-1.72 23.57 56.16 80.35" y="0">PMF </tspan><tspan x="93.74" y="-2.60" font-size="36.46">(</tspan><tspan x="106.75 128.70 145.54 159.93 196.52 220.66" y="0">KJ/mol</tspan><tspan x="232.14" y="-2.60" font-size="36.46">)</tspan></text>
<text transform="translate(19.11,93.30) scale(1.0399,1)" font-size="40.48" xml:space="preserve"><tspan x="0.00" y="0">a</tspan><tspan x="23.61" y="-2.60" font-size="36.46">)</tspan></text>
<rect x="153.1" y="663.25" width="457.60" height="457.75" fill="none" stroke="#000" stroke-width="2.54" stroke-linejoin="miter"/>
<line x1="153.10" y1="1121.00" x2="153.10" y2="1132.10" stroke="#000" stroke-width="2.54"/>
<text transform="translate(143.10,1166.70) scale(1.0796,1)" font-size="33.38" xml:space="preserve"><tspan x="0.00" y="0">0</tspan></text>
<line x1="267.50" y1="1121.00" x2="267.50" y2="1132.10" stroke="#000" stroke-width="2.54"/>
<text transform="translate(257.18,1166.70) scale(1.0796,1)" font-size="33.38" xml:space="preserve"><tspan x="0.00" y="0">1</tspan></text>
<line x1="381.90" y1="1121.00" x2="381.90" y2="1132.10" stroke="#000" stroke-width="2.54"/>
<text transform="translate(372.33,1166.70) scale(1.0796,1)" font-size="33.38" xml:space="preserve"><tspan x="0.00" y="0">2</tspan></text>
<line x1="496.30" y1="1121.00" x2="496.30" y2="1132.10" stroke="#000" stroke-width="2.54"/>
<text transform="translate(486.38,1166.70) scale(1.0796,1)" font-size="33.38" xml:space="preserve"><tspan x="0.00" y="0">3</tspan></text>
<line x1="610.70" y1="1121.00" x2="610.70" y2="1132.10" stroke="#000" stroke-width="2.54"/>
<text transform="translate(600.78,1166.70) scale(1.0796,1)" font-size="33.38" xml:space="preserve"><tspan x="0.00" y="0">4</tspan></text>
<line x1="142.00" y1="663.25" x2="153.10" y2="663.25" stroke="#000" stroke-width="2.54"/>
<text transform="translate(91.56,674.92) scale(1.0796,1)" font-size="33.38" xml:space="preserve"><tspan x="0.00 18.56" y="0">40</tspan></text>
<line x1="142.00" y1="720.47" x2="153.10" y2="720.47" stroke="#000" stroke-width="2.54"/>
<text transform="translate(91.56,732.14) scale(1.0796,1)" font-size="33.38" xml:space="preserve"><tspan x="0.00 18.56" y="0">30</tspan></text>
<line x1="142.00" y1="777.69" x2="153.10" y2="777.69" stroke="#000" stroke-width="2.54"/>
<text transform="translate(91.56,789.36) scale(1.0796,1)" font-size="33.38" xml:space="preserve"><tspan x="0.00 18.56" y="0">20</tspan></text>
<line x1="142.00" y1="834.91" x2="153.10" y2="834.91" stroke="#000" stroke-width="2.54"/>
<text transform="translate(91.56,846.58) scale(1.0796,1)" font-size="33.38" xml:space="preserve"><tspan x="0.00 18.56" y="0">10</tspan></text>
<line x1="142.00" y1="892.12" x2="153.10" y2="892.12" stroke="#000" stroke-width="2.54"/>
<text transform="translate(111.64,903.79) scale(1.0796,1)" font-size="33.38" xml:space="preserve"><tspan x="0.00" y="0">0</tspan></text>
<line x1="142.00" y1="949.34" x2="153.10" y2="949.34" stroke="#000" stroke-width="2.54"/>
<text transform="translate(65.18,961.01) scale(1.0796,1)" font-size="33.38" xml:space="preserve"><tspan x="2.48 24.45 43.01" y="0">−10</tspan></text>
<line x1="142.00" y1="1006.56" x2="153.10" y2="1006.56" stroke="#000" stroke-width="2.54"/>
<text transform="translate(65.18,1018.23) scale(1.0796,1)" font-size="33.38" xml:space="preserve"><tspan x="2.48 24.45 43.01" y="0">−20</tspan></text>
<line x1="142.00" y1="1063.78" x2="153.10" y2="1063.78" stroke="#000" stroke-width="2.54"/>
<text transform="translate(65.18,1075.45) scale(1.0796,1)" font-size="33.38" xml:space="preserve"><tspan x="2.48 24.45 43.01" y="0">−30</tspan></text>
<line x1="142.00" y1="1121.00" x2="153.10" y2="1121.00" stroke="#000" stroke-width="2.54"/>
<text transform="translate(65.18,1132.67) scale(1.0796,1)" font-size="33.38" xml:space="preserve"><tspan x="2.48 24.45 43.01" y="0">−40</tspan></text>
<text transform="translate(317.92,1215.60) scale(1.0755,1)" font-size="40.48" xml:space="preserve"><tspan x="-0.20 24.35" y="0">Z </tspan><tspan x="36.48" y="-2.60" font-size="36.46">(</tspan><tspan x="49.48 72.43" y="0">nm</tspan><tspan x="107.45" y="-2.60" font-size="36.46">)</tspan></text>
<text transform="translate(43.40,1009.38) rotate(-90) translate(-3.72,0) scale(0.9775,1)" font-size="40.48" xml:space="preserve"><tspan x="-1.72 23.57 56.16 80.35" y="0">PMF </tspan><tspan x="93.74" y="-2.60" font-size="36.46">(</tspan><tspan x="106.75 128.70 145.54 159.93 196.52 220.66" y="0">KJ/mol</tspan><tspan x="232.14" y="-2.60" font-size="36.46">)</tspan></text>
<text transform="translate(18.76,680.70) scale(1.0772,1)" font-size="40.48" xml:space="preserve"><tspan x="0.00" y="0">b</tspan><tspan x="23.36" y="-2.60" font-size="36.46">)</tspan></text>
<rect x="153.1" y="1250.85" width="457.60" height="457.75" fill="none" stroke="#000" stroke-width="2.54" stroke-linejoin="miter"/>
<line x1="153.10" y1="1708.60" x2="153.10" y2="1719.70" stroke="#000" stroke-width="2.54"/>
<text transform="translate(143.10,1754.30) scale(1.0796,1)" font-size="33.38" xml:space="preserve"><tspan x="0.00" y="0">0</tspan></text>
<line x1="267.50" y1="1708.60" x2="267.50" y2="1719.70" stroke="#000" stroke-width="2.54"/>
<text transform="translate(257.18,1754.30) scale(1.0796,1)" font-size="33.38" xml:space="preserve"><tspan x="0.00" y="0">1</tspan></text>
<line x1="381.90" y1="1708.60" x2="381.90" y2="1719.70" stroke="#000" stroke-width="2.54"/>
<text transform="translate(372.33,1754.30) scale(1.0796,1)" font-size="33.38" xml:space="preserve"><tspan x="0.00" y="0">2</tspan></text>
<line x1="496.30" y1="1708.60" x2="496.30" y2="1719.70" stroke="#000" stroke-width="2.54"/>
<text transform="translate(486.38,1754.30) scale(1.0796,1)" font-size="33.38" xml:space="preserve"><tspan x="0.00" y="0">3</tspan></text>
<line x1="610.70" y1="1708.60" x2="610.70" y2="1719.70" stroke="#000" stroke-width="2.54"/>
<text transform="translate(600.78,1754.30) scale(1.0796,1)" font-size="33.38" xml:space="preserve"><tspan x="0.00" y="0">4</tspan></text>
<line x1="142.00" y1="1250.85" x2="153.10" y2="1250.85" stroke="#000" stroke-width="2.54"/>
<text transform="translate(91.56,1262.52) scale(1.0796,1)" font-size="33.38" xml:space="preserve"><tspan x="0.00 18.56" y="0">40</tspan></text>
<line x1="142.00" y1="1308.07" x2="153.10" y2="1308.07" stroke="#000" stroke-width="2.54"/>
<text transform="translate(91.56,1319.74) scale(1.0796,1)" font-size="33.38" xml:space="preserve"><tspan x="0.00 18.56" y="0">30</tspan></text>
<line x1="142.00" y1="1365.29" x2="153.10" y2="1365.29" stroke="#000" stroke-width="2.54"/>
<text transform="translate(91.56,1376.96) scale(1.0796,1)" font-size="33.38" xml:space="preserve"><tspan x="0.00 18.56" y="0">20</tspan></text>
<line x1="142.00" y1="1422.51" x2="153.10" y2="1422.51" stroke="#000" stroke-width="2.54"/>
<text transform="translate(91.56,1434.18) scale(1.0796,1)" font-size="33.38" xml:space="preserve"><tspan x="0.00 18.56" y="0">10</tspan></text>
<line x1="142.00" y1="1479.72" x2="153.10" y2="1479.72" stroke="#000" stroke-width="2.54"/>
<text transform="translate(111.64,1491.39) scale(1.0796,1)" font-size="33.38" xml:space="preserve"><tspan x="0.00" y="0">0</tspan></text>
<line x1="142.00" y1="1536.94" x2="153.10" y2="1536.94" stroke="#000" stroke-width="2.54"/>
<text transform="translate(65.18,1548.61) scale(1.0796,1)" font-size="33.38" xml:space="preserve"><tspan x="2.48 24.45 43.01" y="0">−10</tspan></text>
<line x1="142.00" y1="1594.16" x2="153.10" y2="1594.16" stroke="#000" stroke-width="2.54"/>
<text transform="translate(65.18,1605.83) scale(1.0796,1)" font-size="33.38" xml:space="preserve"><tspan x="2.48 24.45 43.01" y="0">−20</tspan></text>
<line x1="142.00" y1="1651.38" x2="153.10" y2="1651.38" stroke="#000" stroke-width="2.54"/>
<text transform="translate(65.18,1663.05) scale(1.0796,1)" font-size="33.38" xml:space="preserve"><tspan x="2.48 24.45 43.01" y="0">−30</tspan></text>
<line x1="142.00" y1="1708.60" x2="153.10" y2="1708.60" stroke="#000" stroke-width="2.54"/>
<text transform="translate(65.18,1720.27) scale(1.0796,1)" font-size="33.38" xml:space="preserve"><tspan x="2.48 24.45 43.01" y="0">−40</tspan></text>
<text transform="translate(317.92,1803.20) scale(1.0755,1)" font-size="40.48" xml:space="preserve"><tspan x="-0.20 24.35" y="0">Z </tspan><tspan x="36.48" y="-2.60" font-size="36.46">(</tspan><tspan x="49.48 72.43" y="0">nm</tspan><tspan x="107.45" y="-2.60" font-size="36.46">)</tspan></text>
<text transform="translate(43.40,1596.98) rotate(-90) translate(-3.72,0) scale(0.9775,1)" font-size="40.48" xml:space="preserve"><tspan x="-1.72 23.57 56.16 80.35" y="0">PMF </tspan><tspan x="93.74" y="-2.60" font-size="36.46">(</tspan><tspan x="106.75 128.70 145.54 159.93 196.52 220.66" y="0">KJ/mol</tspan><tspan x="232.14" y="-2.60" font-size="36.46">)</tspan></text>
<text transform="translate(20.10,1268.30) scale(1.0378,1)" font-size="40.48" xml:space="preserve"><tspan x="0.00" y="0">c</tspan><tspan x="21.35" y="-2.60" font-size="36.46">)</tspan></text></svg>
</body></html>
